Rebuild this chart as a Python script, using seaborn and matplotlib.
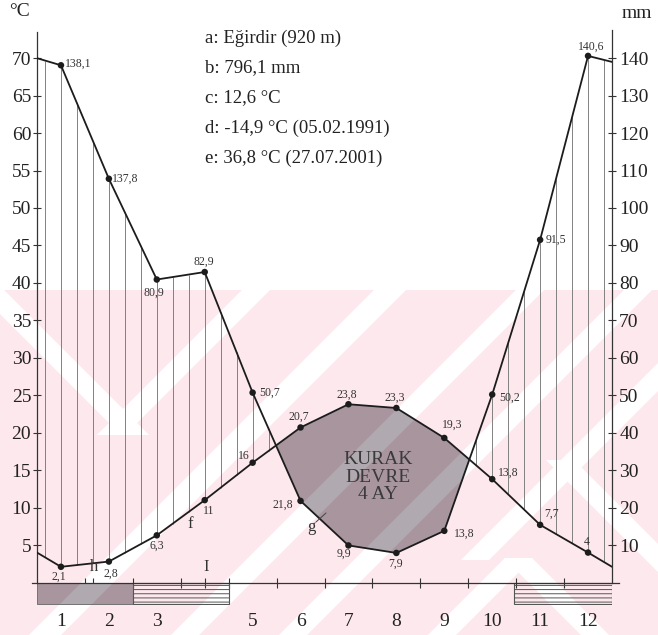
import numpy as np
import matplotlib
matplotlib.use("Agg")
import matplotlib.pyplot as plt
import seaborn as sns
from matplotlib.patches import Polygon
from matplotlib.lines import Line2D

# ---------------- data ----------------
months = list(range(1, 13))
month_labels = [str(m) for m in months]
temp = [2.1, 2.8, 6.3, 11, 16, 20.7, 23.8, 23.3, 19.3, 13.8, 7.7, 4]
precip = [138.1, 107.8, 80.9, 82.9, 50.7, 21.8, 9.9, 7.9, 13.8, 50.2, 91.5, 140.6]
temp_labels = ["2,1", "2,8", "6,3", "11", "16", "20,7", "23,8", "23,3", "19,3", "13,8", "7,7", "4"]
precip_labels = ["138,1", "137,8", "80,9", "82,9", "50,7", "21,8", "9,9", "7,9", "13,8", "50,2", "91,5", "140,6"]
edge_x = [0.5, 12.5]            # start / end of the year on the diagram
temp_edge = [4.0, 2.1]          # curve values drawn at the edges
precip_edge = [140.0, 139.0]
sure_frost_start = [0.5]
sure_frost_end = [2.5]
prob_frost_start = [2.5, 10.45]
prob_frost_end = [4.5, 12.5]
temp_ticks = list(range(5, 75, 5))
precip_ticks = list(range(10, 150, 10))
month_bounds = [m + 0.5 for m in range(1, 12)]
mark_ticks = [1.67, 4.0]
info_lines = ["a: Eğirdir (920 m)", "b: 796,1 mm", "c: 12,6 °C",
              "d: -14,9 °C (05.02.1991)", "e: 36,8 °C (27.07.2001)"]
MM_PER_C = 2.0

# ---------------- label placement (px offsets, ha) ----------------
p_off = [(4, 2, "left"), (3, 0, "left"), (-3, -13, "center"), (-1, 10, "center"),
         (7, 0, "left"), (-7, -4, "right"), (-5, -8, "center"), (-1, -11, "center"),
         (10, -3, "left"), (7, -3, "left"), (6, 0, "left"), (3, 9, "center")]
t_off = [(-2, -10, "center"), (2, -12, "center"), (0, -10, "center"), (4, -11, "center"),
         (-9, 7, "center"), (-2, 11, "center"), (-2, 10, "center"), (-2, 10, "center"),
         (8, 13, "center"), (6, 6, "left"), (11, 11, "center"), (-1, 11, "center")]

sns.set_theme(style="white")
plt.rcParams["font.family"] = ["Liberation Serif", "DejaVu Serif"]
plt.rcParams["hatch.linewidth"] = 0.7

W, H = 658, 635
fig = plt.figure(figsize=(W / 100, H / 100), dpi=100)
fig.patch.set_facecolor("white")


def fpx(x, y):
    return (x / W, 1 - y / H)


PINK = "#fde9ed"
DRY = "#a8959e"
LIGHT = "#b0aab0"
INK = "#1c1c1c"
AX = "#333333"


def slash(c, h, y0, y1):
    return [(c - h - y0, y0), (c + h - y0, y0), (c + h - y1, y1), (c - h - y1, y1)]


def backslash(d, h, y0, y1):
    return [(d - h + y0, y0), (d + h + y0, y0), (d + h + y1, y1), (d - h + y1, y1)]


stripes = [slash(546, 14, 290, 435), slash(680, 16, 290, 635), slash(820, 14, 290, 635),
           slash(928, 14, 290, 635), slash(1035, 14, 290, 560), slash(1077, 14, 558, 635),
           backslash(-300, 14, 290, 435), backslash(100, 14, 460, 635),
           backslash(-40, 14, 558, 635)]

# watermark background
fig.add_artist(Polygon([fpx(0, 290), fpx(W, 290), fpx(W, H), fpx(0, H)], closed=True,
                       transform=fig.transFigure, facecolor=PINK, edgecolor="none", zorder=-2))
for poly in stripes:
    fig.add_artist(Polygon([fpx(*p) for p in poly], closed=True, transform=fig.transFigure,
                           facecolor="white", edgecolor="none", zorder=-1))

ax = fig.add_axes([37 / W, 1 - 605 / H, 575 / W, (605 - 28.2) / H])
ax.patch.set_alpha(0)
ax2 = ax.twinx()
ax2.patch.set_alpha(0)

x_ext = [edge_x[0]] + months + [edge_x[1]]
t_ext = [temp_edge[0]] + temp + [temp_edge[1]]
p_ext = [precip_edge[0]] + precip + [precip_edge[1]]

# dry period fill
xf = np.linspace(0.5, 12.5, 4801)
tf = np.interp(xf, x_ext, t_ext)
pf = np.interp(xf, x_ext, p_ext) / MM_PER_C
dry = ax.fill_between(xf, tf, pf, where=tf >= pf, interpolate=True,
                      facecolor=DRY, edgecolor="none", zorder=1)
for path in dry.get_paths():
    for poly in stripes:
        pp = Polygon([fpx(*p) for p in poly], closed=True, transform=fig.transFigure,
                     facecolor=LIGHT, edgecolor="none", zorder=1.5)
        ax.add_artist(pp)
        pp.set_clip_path(path, ax.transData)

# humid period vertical hatching
xs = np.arange(2, 38) / 3
th = np.interp(xs, x_ext, t_ext)
ph = np.interp(xs, x_ext, p_ext) / MM_PER_C
m = ph > th + 0.2
ax.vlines(xs[m], th[m], ph[m], colors="#6e6e6e", lw=0.6, zorder=2)

# frost bars
sure = ax.bar(sure_frost_start, 2.8, width=np.subtract(sure_frost_end, sure_frost_start),
              bottom=-2.8, align="edge", facecolor=DRY, edgecolor="#666666", lw=0.6, zorder=2)
for bp in sure.patches:
    for poly in stripes:
        pp = Polygon([fpx(*p) for p in poly], closed=True, transform=fig.transFigure,
                     facecolor=LIGHT, edgecolor="none", zorder=2.2)
        ax.add_artist(pp)
        pp.set_clip_path(bp)
ax.bar(prob_frost_start, 2.8, width=np.subtract(prob_frost_end, prob_frost_start),
       bottom=-2.8, align="edge", facecolor="none", edgecolor="#555555", lw=0.8,
       hatch="----", zorder=2)

# curves
sns.lineplot(x=x_ext, y=t_ext, ax=ax, color=INK, lw=1.3, zorder=4)
sns.scatterplot(x=months, y=temp, ax=ax, color=INK, s=22, edgecolor="none", zorder=5)
sns.lineplot(x=x_ext, y=p_ext, ax=ax2, color=INK, lw=1.3, zorder=4)
sns.scatterplot(x=months, y=precip, ax=ax2, color=INK, s=22, edgecolor="none", zorder=5)

for mth, v, lab, (dx, dy, ha) in zip(months, temp, temp_labels, t_off):
    ax.annotate(lab, (mth, v), xytext=(dx * 0.72, dy * 0.72), textcoords="offset points",
                ha=ha, va="center", fontsize=8.5, color="#333333", zorder=6)
for mth, v, lab, (dx, dy, ha) in zip(months, precip, precip_labels, p_off):
    ax2.annotate(lab, (mth, v), xytext=(dx * 0.72, dy * 0.72), textcoords="offset points",
                 ha=ha, va="center", fontsize=8.5, color="#333333", zorder=6)

# axes / limits
ax.set_xlim(0.5, 12.5)
ax.set_ylim(-3, 74)
ax2.set_ylim(-3 * MM_PER_C, 74 * MM_PER_C)
ax.set_xlabel("")
ax.set_ylabel("")
ax2.set_ylabel("")

for s in ["top", "right"]:
    ax.spines[s].set_visible(False)
for s in ["top", "left", "bottom"]:
    ax2.spines[s].set_visible(False)
ax.spines["left"].set_bounds(0, 73.5)
ax.spines["bottom"].set_position(("data", 0))
ax.spines["bottom"].set_bounds(0.4, 12.65)
ax2.spines["right"].set_bounds(0, 147.5)
for sp in [ax.spines["left"], ax.spines["bottom"], ax2.spines["right"]]:
    sp.set_color(AX)
    sp.set_linewidth(0.9)

ax.set_yticks(temp_ticks)
ax.set_yticklabels([str(t) for t in temp_ticks])
ax2.set_yticks(precip_ticks)
ax2.set_yticklabels([str(t) for t in precip_ticks])
ax.tick_params(axis="y", left=True, direction="inout", length=6, width=0.8, color=AX,
               labelsize=14, pad=1.2, labelcolor="#222222")
ax2.tick_params(axis="y", right=True, direction="inout", length=6, width=0.8, color=AX,
                labelsize=14, pad=2.2, labelcolor="#222222")

ax.set_xticks(month_bounds + mark_ticks)
ax.set_xticklabels([""] * (len(month_bounds) + len(mark_ticks)))
ax.set_xticks(months, minor=True)
ax.set_xticklabels(month_labels, minor=True)
ax.tick_params(axis="x", which="major", bottom=True, direction="inout", length=7,
               width=0.8, color=AX)
ax.tick_params(axis="x", which="minor", bottom=True, length=0, pad=22, labelsize=14,
               labelcolor="#222222")

# texts
fig.text(*fpx(20, 12), "°C", ha="center", va="center", fontsize=14, color="#222222")
fig.text(*fpx(637, 14), "mm", ha="center", va="center", fontsize=14, color="#222222")
for i, line in enumerate(info_lines):
    fig.text(*fpx(205, 38 + 30 * i), line, ha="left", va="center", fontsize=13.5,
             color="#222222")
fig.text(*fpx(378, 477), "KURAK\nDEVRE\n4 AY", ha="center", va="center", fontsize=14,
         color="#3a3a3a", linespacing=1.05, multialignment="center")
fig.text(*fpx(190, 524), "f", ha="center", va="center", fontsize=12, color="#333333")
fig.text(*fpx(311, 527), "g", ha="center", va="center", fontsize=12, color="#333333")
fig.add_artist(Line2D([316 / W, 326 / W], [1 - 522 / H, 1 - 513 / H],
                      transform=fig.transFigure, color="#444444", lw=0.7, zorder=6))
fig.text(*fpx(94, 567), "h", ha="center", va="center", fontsize=12, color="#333333")
fig.text(*fpx(206, 567), "I", ha="center", va="center", fontsize=12, color="#333333")

fig.savefig("out.png", dpi=100)
